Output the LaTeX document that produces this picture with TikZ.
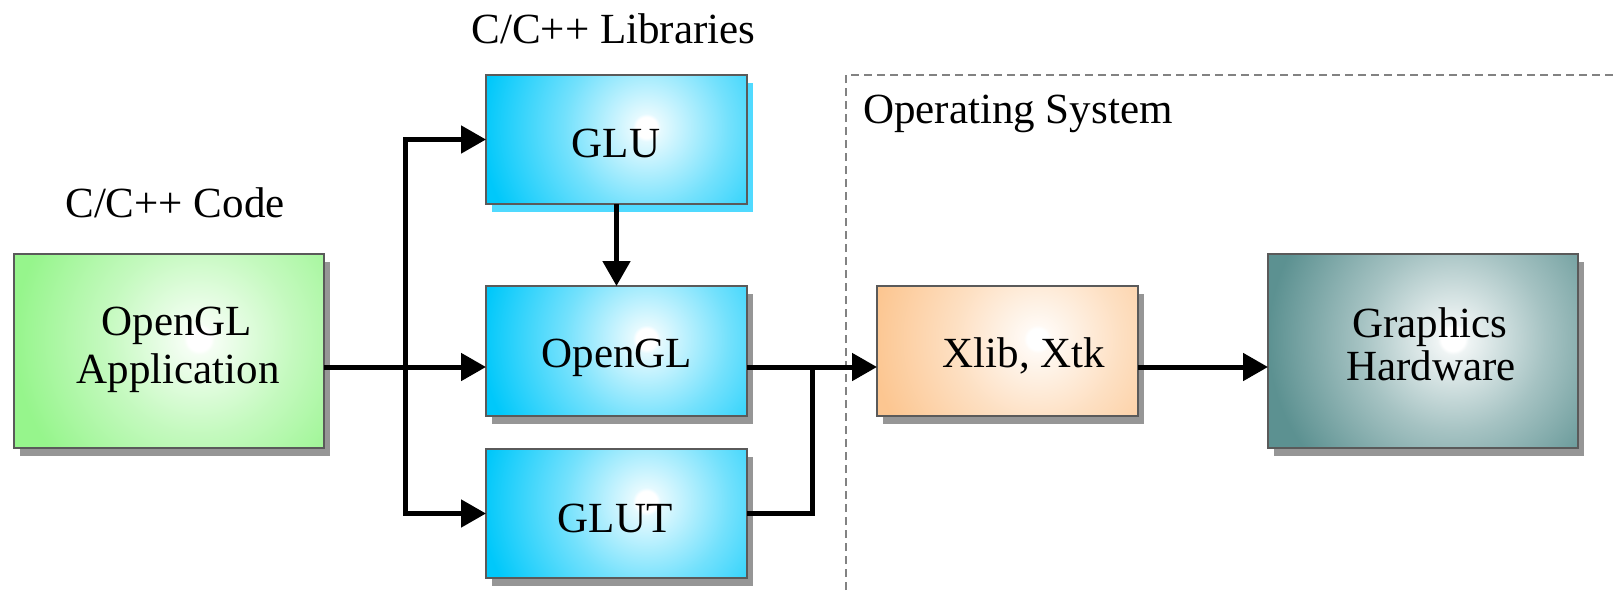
\documentclass[tikz,border=0pt]{standalone}
\usepackage{fontspec}
\setmainfont{Liberation Serif}
\usetikzlibrary{arrows.meta,calc,backgrounds}
\definecolor{gOut}{RGB}{150,245,140}
\definecolor{bOut}{RGB}{0,200,250}
\definecolor{oOut}{RGB}{252,198,145}
\definecolor{tOut}{RGB}{92,145,145}
\definecolor{shadowgray}{RGB}{150,150,150}
\definecolor{glushadow}{RGB}{80,218,255}
\definecolor{boxline}{RGB}{90,90,90}
\definecolor{osgray}{RGB}{130,130,130}
\pgfdeclareradialshading{glowgreen}{\pgfpoint{0bp}{0bp}}{color(0bp)=(white); color(1.6bp)=(white); color(2.1bp)=(gOut!10!white); color(12.5bp)=(gOut!55!white); color(25bp)=(gOut); color(50bp)=(gOut)}
\pgfdeclareradialshading{glowblue}{\pgfpoint{0bp}{0bp}}{color(0bp)=(white); color(1.6bp)=(white); color(2.1bp)=(bOut!10!white); color(12.5bp)=(bOut!55!white); color(25bp)=(bOut); color(50bp)=(bOut)}
\pgfdeclareradialshading{gloworange}{\pgfpoint{0bp}{0bp}}{color(0bp)=(white); color(1.6bp)=(white); color(2.1bp)=(oOut!10!white); color(12.5bp)=(oOut!55!white); color(25bp)=(oOut); color(50bp)=(oOut)}
\pgfdeclareradialshading{glowteal}{\pgfpoint{0bp}{0bp}}{color(0bp)=(white); color(1.6bp)=(white); color(2.1bp)=(tOut!10!white); color(12.5bp)=(tOut!55!white); color(25bp)=(tOut); color(50bp)=(tOut)}
\begin{document}
\begin{tikzpicture}[x=1pt,y=-1pt,
  font=\fontsize{43}{48}\selectfont,
  box/.style={draw=boxline, line width=1.2pt, inner sep=0pt, outer sep=0pt},
  glow/.style n args={3}{fill=#1, path picture={\shade[shading=#2] ($(path picture bounding box.center)+(30,-12)$) circle[radius=#3];}},
  conn/.style={line width=5pt, line join=miter},
  arr/.style={conn, -{Triangle[length=25pt,width=27pt]}},
  txt/.style={inner sep=0pt, anchor=base},
  osline/.style={draw=osgray, line width=1.2pt, dash pattern=on 8pt off 5pt},
]
\useasboundingbox (0,0) rectangle (1614,590);
% boxes
\node[box, glow={gOut}{glowgreen}{185pt}, minimum width=310pt, minimum height=194pt] (App) at (169,351) {};
\node[box, glow={bOut}{glowblue}{165pt}, minimum width=261pt, minimum height=129pt] (GLU) at (616.5,139.5) {};
\node[box, glow={bOut}{glowblue}{165pt}, minimum width=261pt, minimum height=130pt] (OpenGL) at (616.5,351) {};
\node[box, glow={bOut}{glowblue}{165pt}, minimum width=261pt, minimum height=129pt] (GLUT) at (616.5,513.5) {};
\node[box, glow={oOut}{gloworange}{165pt}, minimum width=261pt, minimum height=130pt] (Xlib) at (1007.5,351) {};
\node[box, glow={tOut}{glowteal}{185pt}, minimum width=310pt, minimum height=194pt] (HW) at (1423,351) {};
% shadows
\begin{scope}[on background layer]
  \fill[shadowgray] ($(App.north west)+(6,8)$) rectangle ($(App.south east)+(6,8)$);
  \fill[glushadow] ($(GLU.north west)+(6,8)$) rectangle ($(GLU.south east)+(6,8)$);
  \fill[shadowgray] ($(OpenGL.north west)+(6,8)$) rectangle ($(OpenGL.south east)+(6,8)$);
  \fill[shadowgray] ($(GLUT.north west)+(6,8)$) rectangle ($(GLUT.south east)+(6,8)$);
  \fill[shadowgray] ($(Xlib.north west)+(6,8)$) rectangle ($(Xlib.south east)+(6,8)$);
  \fill[shadowgray] ($(HW.north west)+(6,8)$) rectangle ($(HW.south east)+(6,8)$);
\end{scope}
% operating system region
\coordinate (osc) at (846,75);
\draw[osline] (846,590) -- (osc) -- (1614,75);
% texts
\node[txt] (tlib) at (613.5,43) {C/C++ Libraries};
\node[txt] (tcode) at (175,217) {C/C++ Code};
\node[txt, anchor=base west] (tos) at (863,123) {Operating System};
\node[txt] (tapp1) at (177,335) {OpenGL};
\node[txt] (tapp2) at (178,383) {Application};
\node[txt] (tglu) at (616,157) {GLU};
\node[txt] (topengl) at (617,367) {OpenGL};
\node[txt] (tglut) at (615,532) {GLUT};
\node[txt] (txlib) at (1024,367) {Xlib, Xtk};
\node[txt] (thw1) at (1430,337) {Graphics};
\node[txt] (thw2) at (1431,380) {Hardware};
% connectors
\coordinate (row) at (0,367);
\coordinate (jl) at (405,367);
\coordinate (jr) at (812,367);
\draw[arr] (App.east |- row) -- (OpenGL.west |- row);
\draw[arr] (jl) |- (GLU.west);
\draw[arr] (jl) |- (GLUT.west);
\draw[arr] (GLU.south) -- (OpenGL.north);
\draw[arr] (OpenGL.east |- row) -- (Xlib.west |- row);
\draw[conn] (GLUT.east) -| (jr);
\draw[arr] (Xlib.east |- row) -- (HW.west |- row);
\end{tikzpicture}
\end{document}
